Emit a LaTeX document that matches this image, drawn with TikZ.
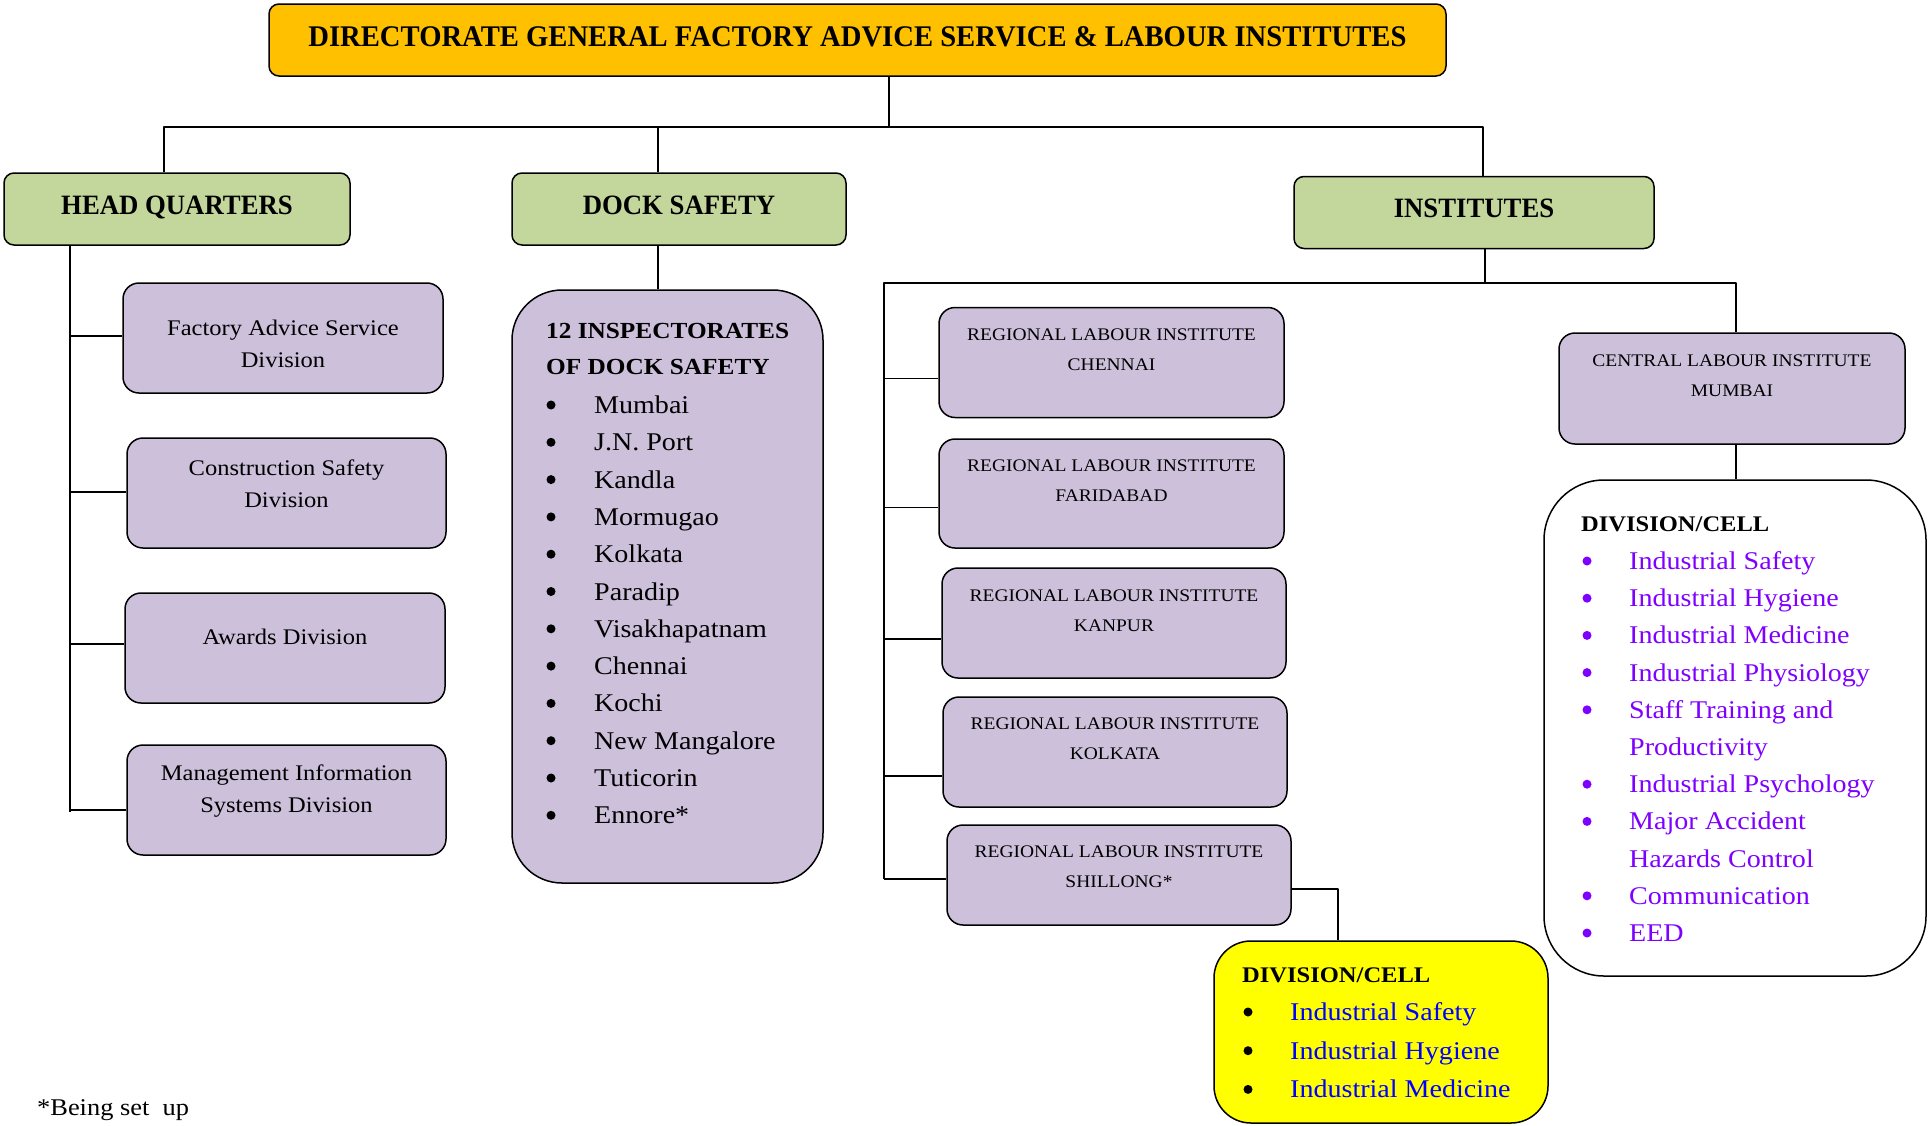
\documentclass[tikz,border=0pt]{standalone}
\usepackage{fontspec}
\setmainfont{Liberation Serif}[FakeStretch=1.1]
\newfontfamily\narrowbf{Liberation Serif}[FakeStretch=0.955]
\usetikzlibrary{calc}
\definecolor{ttlorange}{HTML}{FFC000}
\definecolor{hqgreen}{HTML}{C3D69B}
\definecolor{boxlilac}{HTML}{CCC0DA}
\definecolor{cellyellow}{HTML}{FFFF00}
\definecolor{cellviolet}{HTML}{7F00FF}
\definecolor{cellblue}{HTML}{0000FF}
\tikzset{
  every node/.style={inner sep=0pt},
  conn/.style={line width=1.5pt},
  ttlbox/.style={draw, fill=ttlorange, rounded corners=10pt, line width=1.5pt, minimum width=1177pt, minimum height=72pt, text depth=6pt, font=\narrowbf\bfseries\fontsize{30}{36}\selectfont},
  grnbox/.style={draw, fill=hqgreen, rounded corners=10pt, line width=1.5pt, minimum height=72pt, text depth=8pt, font=\narrowbf\bfseries\fontsize{28}{34}\selectfont},
  divbox/.style={draw, fill=boxlilac, rounded corners=16pt, line width=1.5pt, minimum width=320pt, minimum height=110pt},
  divtxt/.style={align=center, font=\fontsize{22.3}{32}\selectfont},
  rlibox/.style={draw, fill=boxlilac, rounded corners=16pt, line width=1.5pt, minimum width=345pt, minimum height=110pt},
  rlitxt/.style={align=center, font=\fontsize{17.7}{30}\selectfont},
  lsthead/.style={anchor=base west, font=\bfseries\fontsize{23}{28}\selectfont},
  lstitem/.style={anchor=base west, font=\fontsize{25.5}{30}\selectfont},
}
\begin{document}
\begin{tikzpicture}[x=1pt,y=-1pt,line join=round]
\useasboundingbox (0,0) rectangle (1928,1125);
% top level
\node[ttlbox] (dg) at (857.5,40) {DIRECTORATE GENERAL FACTORY ADVICE SERVICE \& LABOUR INSTITUTES};
\node[grnbox, minimum width=346pt] (hq) at (177,209) {HEAD QUARTERS};
\node[grnbox, minimum width=334pt] (dock) at (679,209) {DOCK SAFETY};
\node[grnbox, minimum width=360pt] (inst) at (1474,212.5) {INSTITUTES};
\coordinate (bus) at (889,127);
\coordinate (hqup) at ([xshift=-13pt]hq.north);
\coordinate (dkup) at ([xshift=-21pt]dock.north);
\coordinate (inup) at ([xshift=9pt]inst.north);
\draw[conn] (dg.south -| bus) -- (bus);
\draw[conn] (hqup) |- (bus) -| (inup);
\draw[conn] (dkup) -- (dkup |- bus);

% head quarters
\node[divbox] (fas) at (283,338) {};
\node[divtxt] (fas-t) at ([yshift=-6pt]fas.center) {Factory Advice Service\\Division};
\node[divbox, minimum width=319pt] (csd) at (286.5,493) {};
\node[divtxt] (csd-t) at ([yshift=9pt]csd.center) {Construction Safety\\Division};
\node[divbox] (awd) at (285,648) {};
\node[divtxt] (awd-t) at ([yshift=11pt]awd.center) {Awards Division};
\node[divbox, minimum width=319pt] (mis) at (286.5,800) {};
\node[divtxt] (mis-t) at ([yshift=9pt]mis.center) {Management Information\\Systems Division};
\coordinate (hqtr) at ([xshift=-107pt]hq.south);
\foreach \n/\o in {fas/-2,csd/-1,awd/-4,mis/10} {
  \coordinate (\n-in) at ($(\n.west)+(0,\o)$);
  \draw[conn] (hqtr |- \n-in) -- (\n-in);
}
\draw[conn] (hqtr) -- ($(hqtr |- mis-in)+(0,2)$);

% dock safety
\node[draw, fill=boxlilac, rounded corners=50pt, line width=1.5pt, minimum width=311pt, minimum height=593pt] (dkl) at (667.5,586.5) {};
\coordinate (dkdn) at ([xshift=-21pt]dock.south);
\draw[conn] (dkdn) -- (dkdn |- dkl.north);
\node[lsthead] (dkl-h1) at (546,338) {12 INSPECTORATES};
\node[lsthead] (dkl-h2) at (546,374) {OF DOCK SAFETY};
\foreach \t [count=\i from 0] in {Mumbai, J.N. Port, Kandla, Mormugao, Kolkata, Paradip, Visakhapatnam, Chennai, Kochi, New Mangalore, Tuticorin, Ennore*} {
  \fill (551,{405+37.3*\i}) circle (4.5pt);
  \node[lstitem] (dkl-\i) at (594,{413.5+37.3*\i}) {\t};
}

% institutes
\node[rlibox] (rli1) at (1111.5,362.5) {};
\node[rlitxt] (rli1-t) at ([yshift=13pt]rli1.center) {REGIONAL LABOUR INSTITUTE\\CHENNAI};
\node[rlibox, minimum height=109pt] (rli2) at (1111.5,493.5) {};
\node[rlitxt] (rli2-t) at ([yshift=13pt]rli2.center) {REGIONAL LABOUR INSTITUTE\\FARIDABAD};
\node[rlibox, minimum width=344pt] (rli3) at (1114,623) {};
\node[rlitxt] (rli3-t) at ([yshift=12.5pt]rli3.center) {REGIONAL LABOUR INSTITUTE\\KANPUR};
\node[rlibox, minimum width=344pt] (rli4) at (1115,752) {};
\node[rlitxt] (rli4-t) at ([yshift=13pt]rli4.center) {REGIONAL LABOUR INSTITUTE\\KOLKATA};
\node[rlibox, minimum width=344pt, minimum height=100pt] (rli5) at (1119,875) {};
\node[rlitxt] (rli5-t) at ([yshift=8pt]rli5.center) {REGIONAL LABOUR INSTITUTE\\SHILLONG*};
\node[rlibox, minimum width=346pt, minimum height=111pt] (cli) at (1732,388.5) {};
\node[rlitxt] (cli-t) at ([yshift=13pt]cli.center) {CENTRAL LABOUR INSTITUTE\\MUMBAI};
\coordinate (indn) at ([xshift=11pt]inst.south);
\coordinate (ileft) at (884,283);
\coordinate (iright) at (1736,283);
\foreach \n/\o in {rli1/16,rli2/14,rli3/16,rli4/24,rli5/4} {
  \coordinate (\n-in) at ($(\n.west)+(0,\o)$);
  \draw[conn] (ileft |- \n-in) -- (\n-in);
}
\draw[conn] (indn) -- (indn |- ileft);
\draw[conn] (ileft |- rli5-in) -- (ileft) -- (iright) -- (iright |- cli.north);

% central labour institute cells
\node[draw, fill=white, rounded corners=60pt, line width=1.5pt, minimum width=382pt, minimum height=496pt] (clid) at (1735,728) {};
\draw[conn] (iright |- cli.south) -- (iright |- clid.north);
\node[lsthead, font=\bfseries\fontsize{22.3}{28}\selectfont] (clid-h) at (1581,531.5) {DIVISION/CELL};
\foreach \b/\t [count=\i from 0] in {1/Industrial Safety, 1/Industrial Hygiene, 1/Industrial Medicine, 1/Industrial Physiology, 1/Staff Training and, 0/Productivity, 1/Industrial Psychology, 1/Major Accident, 0/Hazards Control, 1/Communication, 1/EED} {
  \ifnum\b=1 \fill[cellviolet] (1587,{561+37.2*\i}) circle (4.5pt); \fi
  \node[lstitem, text=cellviolet] (clid-\i) at (1629,{569.5+37.2*\i}) {\t};
}

% shillong cells
\node[draw, fill=cellyellow, rounded corners=37pt, line width=1.5pt, minimum width=334pt, minimum height=182pt] (rlid) at (1381,1032) {};
\coordinate (r5e) at ($(rli5.east)+(0,14)$);
\coordinate (rldn) at ([xshift=-43pt]rlid.north);
\draw[conn] (r5e) -| (rldn);
\node[lsthead, font=\bfseries\fontsize{22.3}{28}\selectfont] (rlid-h) at (1242,982.5) {DIVISION/CELL};
\foreach \t [count=\i from 0] in {Industrial Safety, Industrial Hygiene, Industrial Medicine} {
  \fill (1248,{1012+38.7*\i}) circle (4.5pt);
  \node[lstitem, text=cellblue] (rlid-\i) at (1290,{1020.5+38.7*\i}) {\t};
}

\node[anchor=base west, font=\fontsize{24}{28}\selectfont] (note) at (37,1115) {*Being set\ \ up};
\end{tikzpicture}
\end{document}
